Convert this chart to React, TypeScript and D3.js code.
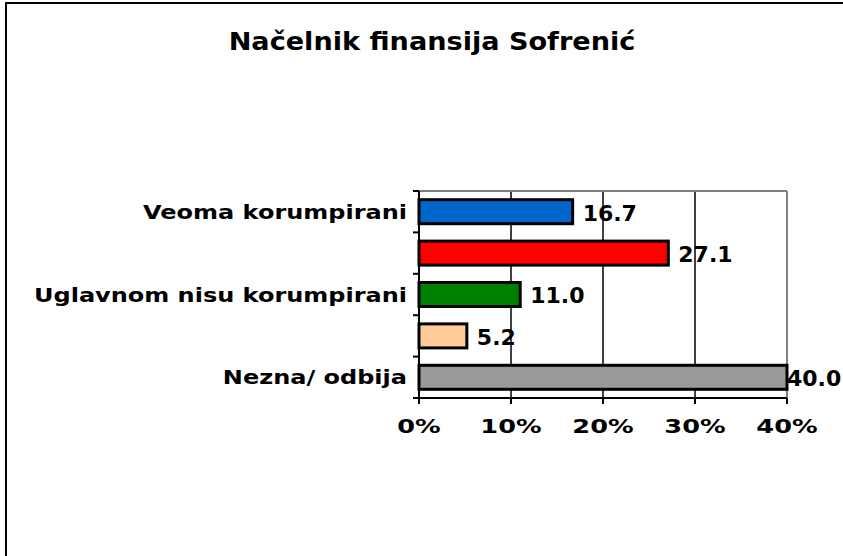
import React from "react";
import * as d3 from "d3";

const width = 843;
const height = 556;
const margin = { top: 191, right: 54, bottom: 158, left: 419 };
const font = "DejaVu Sans, Verdana, sans-serif";

const title = "Načelnik finansija Sofrenić";
// every other category label is hidden in the original (no room)
const categories = [
  "Veoma korumpirani",
  "Uglavnom korumpirani",
  "Uglavnom nisu korumpirani",
  "Uopšte nisu korumpirani",
  "Nezna/ odbija"
];
const showLabel = [true, false, true, false, true];
const values = [16.7, 27.1, 11.0, 5.2, 40.0];
const colors = ["#0066cc", "#ff0000", "#008000", "#ffcc99", "#999999"];
const ticks = [0, 10, 20, 30, 40];

const App = () => {
  const x = d3.scaleLinear()
    .domain([0, 40])
    .range([margin.left, width - margin.right - 2]);
  const y = d3.scaleBand()
    .domain(categories)
    .range([margin.top, height - margin.bottom])
    .paddingInner(0.42)
    .paddingOuter(0.21);

  const top = margin.top;
  const bottom = height - margin.bottom;
  const step = y.step();
  const bounds = d3.range(categories.length + 1).map(i => top + i * step);
  const mid = (c: string) => (y(c) as number) + y.bandwidth() / 2;

  return (
    <svg width={width} height={height} style={{ position: "absolute", left: 0, top: 0 }}>
      <rect x={0} y={0} width={width} height={height} fill="#fff" />
      <rect x={6} y={3} width={width + 20} height={height + 20} fill="none" stroke="#000" strokeWidth={2} />
      <text transform={`translate(432,50) scale(1.085,1)`} textAnchor="middle" fontFamily={font}
        fontWeight="bold" fontSize={25}>
        {title}
      </text>

      {/* grid */}
      {ticks.slice(1, -1).map(t => (
        <line key={t} x1={x(t)} x2={x(t)} y1={top} y2={bottom} stroke="#000" strokeWidth={1.5} />
      ))}
      <line x1={x(0)} x2={x(40)} y1={top} y2={top} stroke="#808080" strokeWidth={2} />
      <line x1={x(40)} x2={x(40)} y1={top} y2={bottom} stroke="#808080" strokeWidth={2} />

      {/* bars */}
      {values.map((v, i) => (
        <rect key={i} x={x(0)} y={y(categories[i])} width={x(v) - x(0)} height={y.bandwidth()}
          fill={colors[i]} stroke="#000" strokeWidth={3} />
      ))}

      {/* axes */}
      <line x1={x(0)} x2={x(0)} y1={top} y2={bottom} stroke="#000" strokeWidth={2} />
      {bounds.map((b, i) => (
        <line key={i} x1={x(0) - 6} x2={x(0)} y1={b} y2={b} stroke="#000" strokeWidth={2} />
      ))}
      <line x1={x(0)} x2={x(40)} y1={bottom} y2={bottom} stroke="#000" strokeWidth={2} />
      {ticks.map(t => (
        <g key={t}>
          <line x1={x(t)} x2={x(t)} y1={bottom} y2={bottom + 6} stroke="#000" strokeWidth={2} />
          <text transform={`translate(${x(t)},433) scale(1.28,1)`} textAnchor="middle" fontFamily={font}
            fontWeight="bold" fontSize={20}>{t}%</text>
        </g>
      ))}

      {/* category labels */}
      {categories.map((c, i) => showLabel[i] && (
        <text key={c} transform={`translate(${x(0) - 12},${mid(c)}) scale(1.2,1)`} dy="0.35em"
          textAnchor="end" fontFamily={font} fontWeight="bold" fontSize={20}>{c}</text>
      ))}

      {/* value labels */}
      {values.map((v, i) => (
        <text key={i} x={Math.min(x(v) + 10, x(40))} y={mid(categories[i])} dy="0.4em"
          fontFamily={font} fontWeight="bold" fontSize={22}>{v.toFixed(1)}</text>
      ))}
    </svg>
  );
};

export default App;
